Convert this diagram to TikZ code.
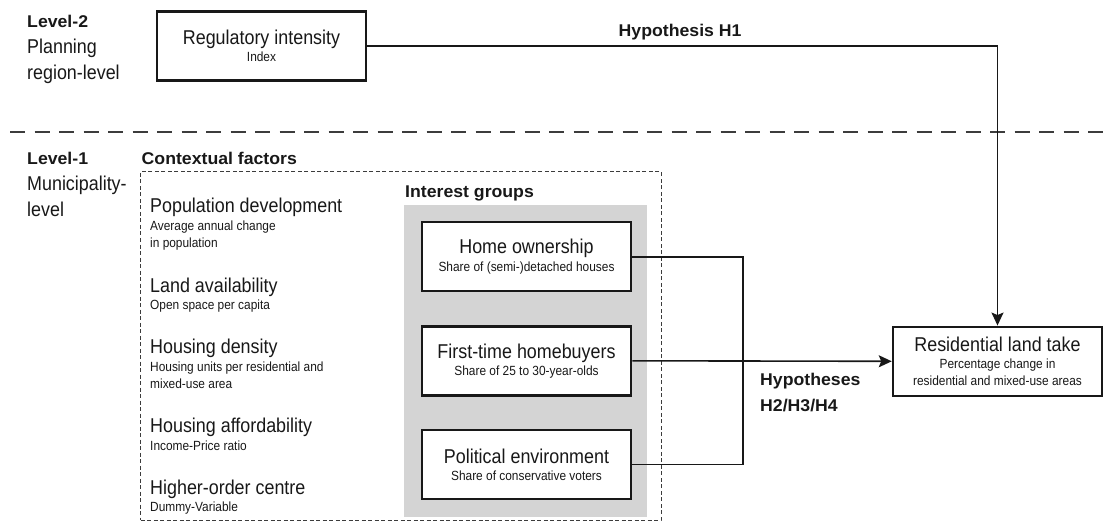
\documentclass[tikz,border=0pt]{standalone}
\usepackage{fontspec}
\setmainfont{Liberation Sans}[FakeStretch=0.895]
\newfontfamily\headfamily{Liberation Sans}[FakeStretch=1.04]
\usetikzlibrary{arrows.meta}

\definecolor{ink}{RGB}{24,24,24}
\definecolor{panel}{RGB}{212,212,212}
\definecolor{rule}{RGB}{60,60,60}

\newcommand\BigTxt{\fontsize{20}{26}\selectfont}
\newcommand\SmallTxt{\fontsize{13.3}{17.3}\selectfont}
\newcommand\HeadTxt{\headfamily\bfseries\fontsize{17}{26.5}\selectfont}

\tikzset{
  varbox/.style={draw=ink, line width=2.5pt, fill=white, minimum width=209pt,
    minimum height=69pt, inner sep=0pt, align=center, font=\SmallTxt, text=ink},
  link/.style={draw=ink, line width=1.6pt},
  arr/.style={link, -{Stealth[length=13pt,width=12pt,inset=2.5pt]}},
  % anchored at the baseline of the last line
  lbl/.style={anchor=base west, inner sep=0pt, text=ink, align=left},
}

\begin{document}
\begin{tikzpicture}[x=1pt,y=-1pt]
\useasboundingbox (0,0) rectangle (1112,522);

% separator between the two levels
\coordinate (sepL) at (10,132);
\coordinate (sepR) at (1112,132);
\draw[rule, line width=1.4pt, dash pattern=on 15pt off 9.5pt] (sepL) -- (sepR);

% level captions
\node[lbl, font=\BigTxt] (lvl2) at (27,79) {{\HeadTxt Level-2}\\Planning\\region-level};
\node[lbl, font=\BigTxt] (lvl1) at (27,216) {{\HeadTxt Level-1}\\Municipality-\\level};

% contextual factors frame
\node[draw=rule, line width=1pt, dash pattern=on 4pt off 2.5pt, minimum width=520.5pt,
  minimum height=348.5pt, inner sep=0pt] (context) at (400.75,345.75) {};
\node[lbl, font=\HeadTxt] (ctxhead) at (141.5,164) {Contextual factors};

\node[lbl, font=\SmallTxt] (pop) at (150,247.3) {{\BigTxt Population development}\\Average annual change\\in population};
\node[lbl, font=\SmallTxt] (land) at (150,309.3) {{\BigTxt Land availability}\\Open space per capita};
\node[lbl, font=\SmallTxt] (dens) at (150,388.3) {{\BigTxt Housing density}\\Housing units per residential and\\mixed-use area};
\node[lbl, font=\SmallTxt] (afford) at (150,450) {{\BigTxt Housing affordability}\\Income-Price ratio};
\node[lbl, font=\SmallTxt] (centre) at (150,511.7) {{\BigTxt Higher-order centre}\\Dummy-Variable};

% interest groups panel
\node[fill=panel, minimum width=243pt, minimum height=312pt, inner sep=0pt] (groups) at (525.5,361) {};
\node[lbl, font=\HeadTxt] (grphead) at (405,197) {Interest groups};

\node[varbox] (own) at (526.5,256.7) {{\BigTxt Home ownership}\\Share of (semi-)detached houses};
\node[varbox] (first) at (526.5,360.8) {{\BigTxt First-time homebuyers}\\Share of 25 to 30-year-olds};
\node[varbox] (pol) at (526.5,464.5) {{\BigTxt Political environment}\\Share of conservative voters};

% regional regulation and outcome
\node[varbox] (reg) at (261.5,46) {{\BigTxt Regulatory intensity}\\Index};
\node[varbox] (take) at (997.5,361.3) {{\BigTxt Residential land take}\\Percentage change in\\residential and mixed-use areas};

% hypotheses
\draw[arr] (reg.east) -- (take.north |- reg.east) -- (take.north);
\node[lbl, font=\HeadTxt] (h1) at (618.5,36) {Hypothesis H1};

\coordinate (join) at (743,0);
\draw[link] (own.east) -- (own.east -| join) -- (pol.east -| join) -- (pol.east);
\draw[arr] (first.east) -- (take.west);
\node[lbl, font=\HeadTxt] (h234) at (760,411.5) {Hypotheses\\H2/H3/H4};
\end{tikzpicture}
\end{document}
